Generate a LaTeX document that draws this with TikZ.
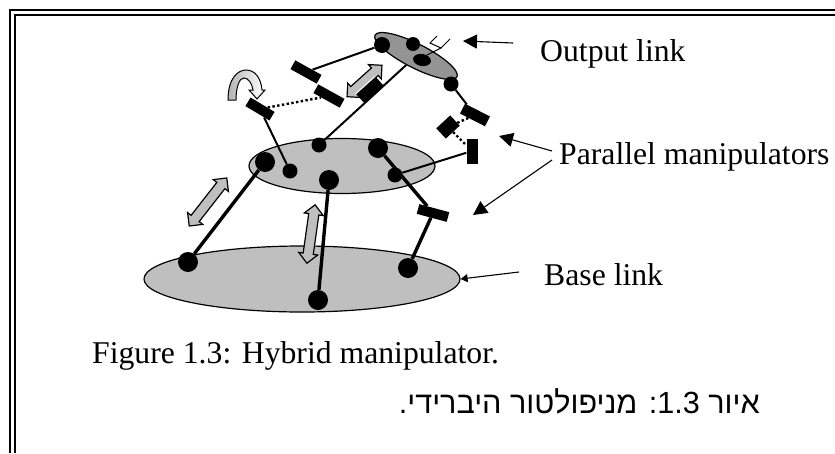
\documentclass[tikz,border=0pt]{standalone}
\usepackage{fontspec}
\setmainfont{Liberation Serif}
\newfontfamily\hebfont[Script=Hebrew]{Liberation Sans}
\TeXXeTstate=1
\usetikzlibrary{shapes.geometric,shapes.arrows,arrows.meta}

\tikzset{
    linkdisc/.style={draw=black, line width=1.2pt, ellipse, inner sep=0pt},
    jointdot/.style={circle, fill=black, inner sep=0pt},
    sliderbar/.style={rectangle, fill=black, inner sep=0pt},
    motionarrow/.style={double arrow, draw=black, line width=1.2pt, fill=black!25, inner xsep=0pt, inner ysep=4.5pt,
        double arrow head extend=4.5pt},
    thicklink/.style={draw=black, line width=3.4pt},
    thinlink/.style={draw=black, line width=2pt},
    dottedlink/.style={draw=black, line width=2.4pt, dash pattern=on 2.4pt off 2.4pt},
    callout/.style={draw=black, line width=1.1pt, -{Triangle[length=14pt,width=14pt]}},
    labeltext/.style={inner sep=0pt, anchor=base west, font=\fontsize{31.7}{36}\selectfont},
}

\begin{document}
\begin{tikzpicture}[x=1pt,y=-1pt]
        \useasboundingbox (0,0) rectangle (835,453);

        % frame
        \draw [draw=black, line width=2pt] (835,10) -- (10,10) -- (10,453);
        \draw [draw=black, line width=2pt] (835,15) -- (15,15) -- (15,453);

        % discs
        \node [linkdisc, fill=black!25, minimum width=316pt, minimum height=66pt] (baselink) at (302,279) {};
        \node [linkdisc, fill=black!25, minimum width=186pt, minimum height=55pt] (midlink) at (342,166) {};
        \node [linkdisc, fill=black!42, minimum width=92pt, minimum height=24pt, rotate=-27] (outlink) at (416,56) {};

        % motion arrows
        \node [motionarrow, minimum height=47pt, rotate=42] (movea) at (364.5,81) {};
        \node [motionarrow, minimum height=61pt, rotate=52] (moveb) at (208,202) {};
        \node [motionarrow, minimum height=59pt, rotate=82] (movec) at (311,234) {};
        \draw [draw=black, line width=1pt, left color=black!30, right color=white]
            (228,100) .. controls (228,78) and (238,70) .. (246,70)
            .. controls (255,70) and (261,78) .. (262,90) -- (265,90) -- (257,99) -- (249,90) -- (253,90)
            .. controls (252,83) and (248,78) .. (244,78)
            .. controls (239,78) and (236,88) .. (236,100) -- cycle;

        % joints
        \foreach \nm/\x/\y/\d in {b1/188/262/20, b2/318/300/20, b3/408/268/20,
                                  m1/265/162/20, m2/290/171/15, m3/319/145/15,
                                  m4/378/148/20, m5/329/180/20, m6/395/175/15,
                                  o1/382/45/16, o2/413/44/14, o3/451/84/15} {
                \node [jointdot, minimum size=\d pt] (\nm) at (\x,\y) {};
        }
        \node [ellipse, fill=black, inner sep=0pt, minimum width=18pt, minimum height=12pt, rotate=-10] (o4) at (422,60) {};

        % sliders
        \foreach \nm/\x/\y/\w/\h/\a in {bara/260/109/28/10/-31, barb/306/72/30/10/-29,
                                        barc/329/96/30/10/-29, bard/370/90/26/13/42,
                                        bare/475/115/28/11/-27, barf/448/127/19/14/43,
                                        barg/472/151/11/25/0, barh/433/213/31/10/-15} {
                \node [sliderbar, minimum width=\w pt, minimum height=\h pt, rotate=\a] (\nm) at (\x,\y) {};
        }
        \draw [draw=white, line width=1pt] (bard.north west) -- (bard.north east);

        % links
        \draw [thicklink] (m1) -- (b1);
        \draw [thicklink] (m5) -- (b2);
        \draw [thicklink] (m4) -- (barh);
        \draw [thicklink] (barh) -- (b3);
        \draw [thinlink] (m2) -- (bara);
        \draw [thinlink] (o1) -- (barb);
        \draw [thinlink] (m3) -- (outlink);
        \draw [thinlink] (o3) -- (bare);
        \draw [thinlink] (m6) -- (barg);
        \draw [dottedlink] (bara) -- (barc);
        \draw [dottedlink] (bare) -- (barf);
        \draw [dottedlink] (barf) -- (barg);

        % gripper
        \coordinate (stem) at (427,55);
        \coordinate (fork) at (441,48);
        \draw [draw=black, line width=1pt] (stem) -- (fork) -- (430,43) -- (437,36);
        \draw [draw=black, line width=1pt] (fork) -- (450,39);

        % labels
        \node [labeltext] (outtext) at (540,61) {Output link};
        \node [labeltext] (partext) at (559,164) {Parallel manipulators};
        \node [labeltext] (basetext) at (544,285) {Base link};
        \node [labeltext] (figtext) at (92,363) {Figure 1.3: Hybrid manipulator.};
        \node [inner sep=0pt, anchor=base east, font=\fontsize{30.6}{36}\selectfont\hebfont] (hebtext) at (760,413)
            {\beginR איור \beginL 1.3\endL: מניפולטור היברידי.\endR};

        \coordinate (outstart) at (513,43);
        \coordinate (outtip) at (463,41);
        \coordinate (parsplit) at (552,151);
        \coordinate (parsplitb) at (552,160);
        \coordinate (partipa) at (499,136);
        \coordinate (partipb) at (473,215);
        \coordinate (basestart) at (519,272);
        \draw [callout] (outstart) -- (outtip);
        \draw [callout] (parsplit) -- (partipa);
        \draw [callout] (parsplitb) -- (partipb);
        \draw [draw=black, line width=1.1pt, -{Triangle[length=7pt,width=8pt]}] (basestart) -- (baselink.east);

\end{tikzpicture}
\end{document}
